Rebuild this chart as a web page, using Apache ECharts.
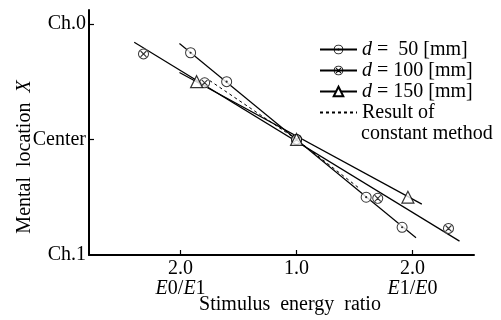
<!DOCTYPE html>
<html>
<head>
<meta charset="utf-8">
<script src="https://cdn.jsdelivr.net/npm/echarts@6/dist/echarts.min.js"></script>
<style>
html, body { margin: 0; padding: 0; background: #fff; }
#chart { width: 501px; height: 320px; }
</style>
</head>
<body>
<div id="chart"></div>
<script>
// x: stimulus energy ratio (left = E0/E1, right = E1/E0, 0 = ratio 1.0), y: mental location (+1 Ch.0, 0 Center, -1 Ch.1)
var xTicks = [-1, 0, 1];
var xTickLabels = ['2.0\n{i|E}0/{i|E}1', '1.0', '2.0\n{i|E}1/{i|E}0'];
var yTicks = [-1, 0, 1];
var yTickLabels = ['Ch.1', 'Center', 'Ch.0'];

var seriesNames = ['d50', 'd100', 'd150', 'const'];
var legendLabels = ['{i|d} =  50 [mm]', '{i|d} = 100 [mm]', '{i|d} = 150 [mm]', 'Result of'];

// measured points
var d50Points = [[-0.914, 0.75], [-0.603, 0.50], [0, 0], [0.60, -0.50], [0.91, -0.76]];
var d100Points = [[-1.32, 0.74], [-0.793, 0.49], [0, 0], [0.70, -0.51], [1.31, -0.77]];
var d150Points = [[-0.862, 0.50], [0, 0], [0.96, -0.50]];

// fitted lines
var d50Line = [[-1.01, 0.83], [1.03, -0.85]];
var d100Line = [[-1.40, 0.84], [1.405, -0.88]];
var d150Line = [[-1.01, 0.58], [1.08, -0.56]];
var constLine = [[-0.75, 0.51], [0, 0], [0.55, -0.43]];

var FONT = '"Liberation Serif", "DejaVu Serif", serif';
var RING_DOT = 'path://M10,0A10,10 0 1,1 10,20A10,10 0 1,1 10,0Z M10,1.8A8.2,8.2 0 1,0 10,18.2A8.2,8.2 0 1,0 10,1.8Z M10,8A2,2 0 1,1 10,12A2,2 0 1,1 10,8Z';
var RING_X = 'path://M10,0A10,10 0 1,1 10,20A10,10 0 1,1 10,0Z M10,1.8A8.2,8.2 0 1,0 10,18.2A8.2,8.2 0 1,0 10,1.8Z M4,5.4L5.4,4L16,14.6L14.6,16Z M14.6,4L16,5.4L5.4,16L4,14.6Z';

var chart = echarts.init(document.getElementById('chart'));

function fitLine(name, data, symbol, itemStyle) {
    return {
        name: name,
        type: 'line',
        data: data,
        showSymbol: false,
        symbol: symbol,
        itemStyle: itemStyle,
        lineStyle: { color: '#000', width: 1.2 },
        silent: true,
        z: 2
    };
}

function pointSeries(data, symbol, size, itemStyle, z) {
    return {
        type: 'scatter',
        data: data,
        symbol: symbol,
        symbolSize: size,
        itemStyle: itemStyle,
        silent: true,
        z: z
    };
}

var option = {
    animation: false,
    backgroundColor: '#fff',
    grid: { left: 89, right: 27, top: 10, bottom: 65 },
    legend: {
        orient: 'vertical',
        left: 314,
        top: 34,
        itemWidth: 37,
        itemHeight: 12,
        itemGap: 0,
        selectedMode: false,
        data: seriesNames,
        formatter: function (name) {
            return legendLabels[seriesNames.indexOf(name)];
        },
        textStyle: {
            fontFamily: FONT, fontSize: 20, color: '#000', lineHeight: 21,
            rich: { i: { fontFamily: FONT, fontSize: 20, fontStyle: 'italic', color: '#000' } }
        }
    },
    graphic: [
        {
            type: 'text', left: 361, top: 124,
            style: { text: 'constant method', font: '20px ' + FONT, fill: '#000' }
        },
        {
            type: 'text', x: 290, y: 305,
            style: { text: 'Stimulus  energy  ratio', font: '20px ' + FONT, fill: '#000', textAlign: 'center', textVerticalAlign: 'middle' }
        },
        {
            type: 'text', x: 25, y: 157, rotation: Math.PI / 2,
            style: {
                text: 'Mental  location  {i|X}', font: '20px ' + FONT, fill: '#000', textAlign: 'center', textVerticalAlign: 'middle',
                rich: { i: { font: 'italic 20px ' + FONT, fill: '#000' } }
            }
        }
    ],
    xAxis: {
        type: 'value',
        min: -1.79,
        max: 1.53,
        splitLine: { show: false },
        axisLine: { onZero: false, lineStyle: { color: '#000', width: 2 } },
        axisTick: { inside: true, length: 5, customValues: xTicks, lineStyle: { color: '#000', width: 1.2 } },
        axisLabel: {
            customValues: xTicks,
            margin: 4,
            color: '#000',
            fontFamily: FONT,
            fontSize: 20,
            lineHeight: 20,
            formatter: function (v) {
                return xTickLabels[xTicks.indexOf(Math.round(v))];
            },
            rich: { i: { fontFamily: FONT, fontSize: 20, fontStyle: 'italic', color: '#000', lineHeight: 20 } }
        }
    },
    yAxis: {
        type: 'value',
        min: -1,
        max: 1.12,
        splitLine: { show: false },
        axisLine: { onZero: false, lineStyle: { color: '#000', width: 2 } },
        axisTick: { inside: true, length: 5, customValues: [0, 1], lineStyle: { color: '#000', width: 1.2 } },
        axisLabel: {
            customValues: yTicks,
            margin: 3,
            color: '#000',
            fontFamily: FONT,
            fontSize: 20,
            formatter: function (v) {
                return yTickLabels[yTicks.indexOf(Math.round(v))];
            }
        }
    },
    series: [
        fitLine('d50', d50Line, RING_DOT, { color: '#000' }),
        fitLine('d100', d100Line, RING_X, { color: '#000' }),
        fitLine('d150', d150Line, 'triangle', { color: '#fff', borderColor: '#000', borderWidth: 1.2 }),
        {
            name: 'const',
            type: 'line',
            data: constLine,
            showSymbol: false,
            symbol: 'none',
            itemStyle: { opacity: 0 },
            lineStyle: { color: '#000', width: 1, type: [3, 3] },
            silent: true,
            z: 2
        },
        pointSeries(d50Points, 'circle', 11, { color: '#fff' }, 3),
        pointSeries(d100Points, 'circle', 11, { color: '#fff' }, 3),
        pointSeries(d50Points, RING_DOT, 11, { color: '#000' }, 4),
        pointSeries(d100Points, RING_X, 11, { color: '#000' }, 4),
        pointSeries(d150Points, 'triangle', 12, { color: '#fff', borderColor: '#000', borderWidth: 1.2 }, 4)
    ]
};

chart.setOption(option);
</script>
</body>
</html>
